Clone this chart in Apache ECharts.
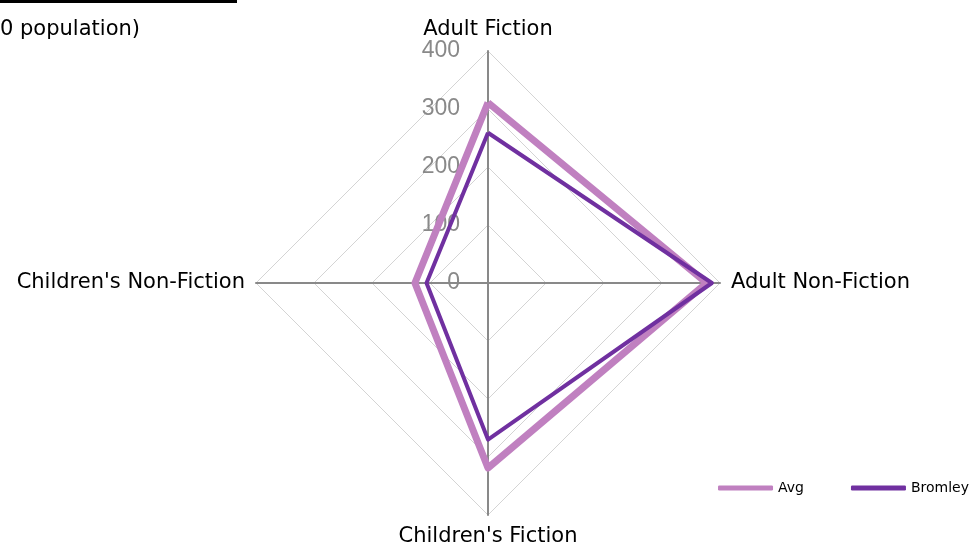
<!DOCTYPE html>
<html>
<head>
<meta charset="utf-8">
<script src="https://cdn.jsdelivr.net/npm/echarts@6/dist/echarts.min.js"></script>
<style>
html,body{margin:0;padding:0;background:#fff;}
#c{width:971px;height:550px;}
</style>
</head>
<body>
<div id="c"></div>
<script>
// Categories in the reference's clockwise order starting at the top
var categories = ["Adult Fiction", "Adult Non-Fiction", "Children's Fiction", "Children's Non-Fiction"];
var avgValues = [311, 377, 319, 126];
var bromleyValues = [259, 386, 270, 106];
var tickLabels = ["0", "100", "200", "300", "400"];
var axisMax = 400;
var titleText = "0 population)";

// ECharts radar runs anticlockwise; map to clockwise display order
var order = [0, 3, 2, 1];
function reorder(arr) { return order.map(function (i) { return arr[i]; }); }

var indicators = reorder(categories).map(function (name, k) {
  var ind = { name: name, min: 0, max: axisMax };
  if (k === 0) {
    ind.axisLabel = {
      show: true,
      showMinLabel: true,
      color: '#898989',
      fontFamily: 'Liberation Sans',
      fontSize: 23,
      margin: 28,
      formatter: function (v) { return tickLabels[Math.round(v / 100)]; }
    };
  }
  return ind;
});

var chart = echarts.init(document.getElementById('c'), null, { renderer: 'canvas' });
chart.setOption({
  animation: false,
  backgroundColor: '#ffffff',
  graphic: [
    { type: 'rect', left: 0, top: 0, shape: { width: 237, height: 3 }, style: { fill: '#000' } },
    { type: 'text', left: 0, top: 19, style: { text: titleText, font: '21px "DejaVu Sans"', fill: '#000' } }
  ],
  legend: {
    orient: 'horizontal',
    right: 2,
    top: 481,
    padding: 0,
    itemWidth: 55,
    itemHeight: 5,
    itemGap: 47,
    icon: 'roundRect',
    textStyle: { fontFamily: 'DejaVu Sans', fontSize: 14, color: '#000' },
    data: ['Avg', 'Bromley']
  },
  radar: {
    center: [488, 283],
    radius: 232,
    startAngle: 90,
    splitNumber: 4,
    shape: 'polygon',
    indicator: indicators,
    axisName: { color: '#000', fontFamily: 'DejaVu Sans', fontSize: 21 },
    nameGap: 11,
    axisLine: { lineStyle: { color: '#898989', width: 2 } },
    splitLine: { lineStyle: { color: '#d4d4d4', width: 1 } },
    splitArea: { show: false },
    axisTick: { show: false },
    axisLabel: { show: false }
  },
  series: [{
    type: 'radar',
    symbol: 'none',
    data: [
      { name: 'Avg', value: reorder(avgValues), lineStyle: { color: '#c080c0', width: 7 }, itemStyle: { color: '#c080c0' } },
      { name: 'Bromley', value: reorder(bromleyValues), lineStyle: { color: '#7030a0', width: 4 }, itemStyle: { color: '#7030a0' } }
    ]
  }]
});
</script>
</body>
</html>
